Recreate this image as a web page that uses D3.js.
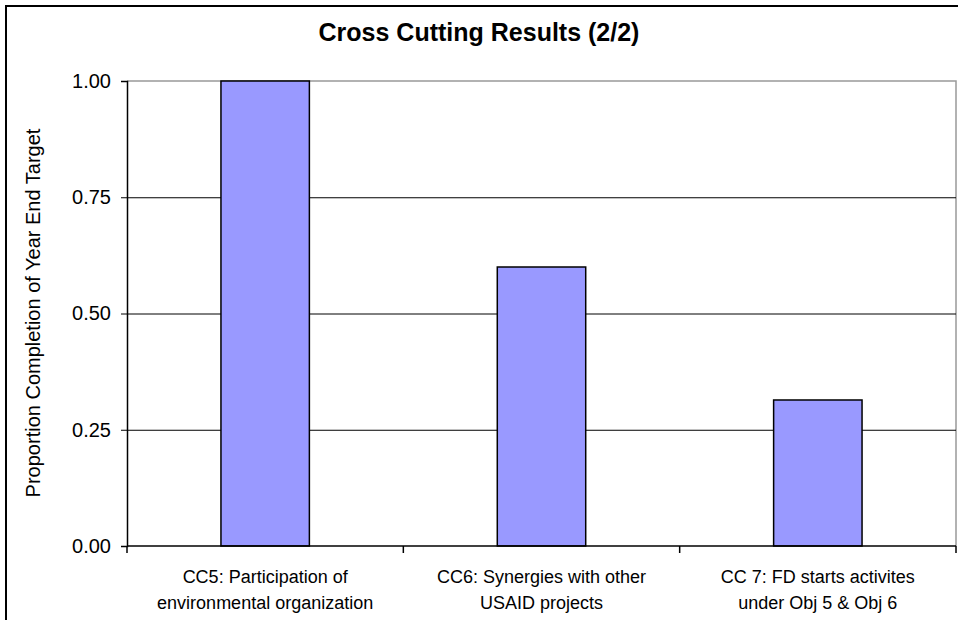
<!DOCTYPE html>
<html lang="en">
<head>
  <meta charset="utf-8">
  <title>Cross Cutting Results (2/2)</title>
  <script src="https://d3js.org/d3.v7.min.js"></script>
</head>
<style>
  body { margin: 0; background: #fff; }
  svg text { font-family: Arial, "Liberation Sans", sans-serif; fill: #000; }
</style>
<body>
  <div class="chart"></div>
</body>
<script>
// chart data
var categories = [
  ["CC5: Participation of", "environmental organization"],
  ["CC6: Synergies with other", "USAID projects"],
  ["CC 7: FD starts activites", "under Obj 5 & Obj 6"]
];
var values = [1.00, 0.60, 0.314];
var yTicks = [0, 0.25, 0.5, 0.75, 1];

var margin = {top: 81, right: 2, bottom: 74, left: 127};
var width = 958 - margin.left - margin.right;
var height = 620 - margin.top - margin.bottom;

var svg = d3.select(".chart")
  .append("svg")
  .attr("width", 958)
  .attr("height", 620);

// outer frame (only top and left visible)
svg.append("path")
  .attr("d", "M6,620 V6 H958")
  .attr("fill", "none")
  .attr("stroke", "#000")
  .attr("stroke-width", 2);

svg.append("text")
  .attr("x", 479)
  .attr("y", 41)
  .attr("text-anchor", "middle")
  .style("font-size", "25px")
  .style("font-weight", "bold")
  .text("Cross Cutting Results (2/2)");

var canvas = svg.append("g")
  .attr("transform", "translate(" + margin.left + "," + margin.top + ")");

var x = d3.scaleBand()
  .domain(d3.range(categories.length))
  .range([0, width])
  .paddingInner(0.68)
  .paddingOuter(0.34);

var y = d3.scaleLinear().domain([0, 1]).range([height, 0]);

// plot area border (gray top + right)
canvas.append("path")
  .attr("d", "M0," + y(1) + " H" + width + " V" + height)
  .attr("fill", "none")
  .attr("stroke", "#999")
  .attr("stroke-width", 1.5);

// gridlines
canvas.selectAll(".grid")
  .data(yTicks.filter(function(d){ return d > 0 && d < 1; }))
  .enter().append("line")
  .attr("class", "grid")
  .attr("x1", 0)
  .attr("x2", width)
  .attr("y1", function(d){ return y(d) + 0.5; })
  .attr("y2", function(d){ return y(d) + 0.5; })
  .attr("stroke", "#000")
  .attr("stroke-width", 1);

// bars
canvas.selectAll(".bar")
  .data(values)
  .enter().append("rect")
  .attr("class", "bar")
  .attr("x", function(d, i){ return x(i); })
  .attr("width", x.bandwidth())
  .attr("y", function(d){ return y(d); })
  .attr("height", function(d){ return height - y(d); })
  .attr("fill", "#9999ff")
  .attr("stroke", "#000")
  .attr("stroke-width", 1.5);

// y axis
var yAxis = canvas.append("g")
  .call(d3.axisLeft(y).tickValues(yTicks).tickFormat(d3.format(".2f")).tickSize(6).tickPadding(10));
yAxis.select(".domain").attr("stroke", "#000").attr("stroke-width", 1.5);
yAxis.selectAll("text").style("font-size", "20px");

// x axis: ticks at category boundaries
var bounds = d3.range(categories.length + 1).map(function(i){ return i * width / categories.length; });
canvas.append("line")
  .attr("x1", 0).attr("x2", width)
  .attr("y1", height).attr("y2", height)
  .attr("stroke", "#000").attr("stroke-width", 1.5);
canvas.selectAll(".xtick")
  .data(bounds)
  .enter().append("line")
  .attr("class", "xtick")
  .attr("x1", function(d){ return d; })
  .attr("x2", function(d){ return d; })
  .attr("y1", height)
  .attr("y2", height + 7)
  .attr("stroke", "#000")
  .attr("stroke-width", 1.5);

// category labels
var labels = canvas.selectAll(".xlabel")
  .data(categories)
  .enter().append("text")
  .attr("class", "xlabel")
  .attr("text-anchor", "middle")
  .style("font-size", "18px");
labels.each(function(lines, i){
  var t = d3.select(this);
  lines.forEach(function(s, k){
    t.append("tspan")
      .attr("x", x(i) + x.bandwidth() / 2)
      .attr("y", height + 37 + k * 26)
      .text(s);
  });
});

// y axis title
svg.append("text")
  .attr("transform", "translate(40," + 313 + ") rotate(-90)")
  .attr("text-anchor", "middle")
  .style("font-size", "20px")
  .text("Proportion Completion of Year End Target");
</script>
</html>
